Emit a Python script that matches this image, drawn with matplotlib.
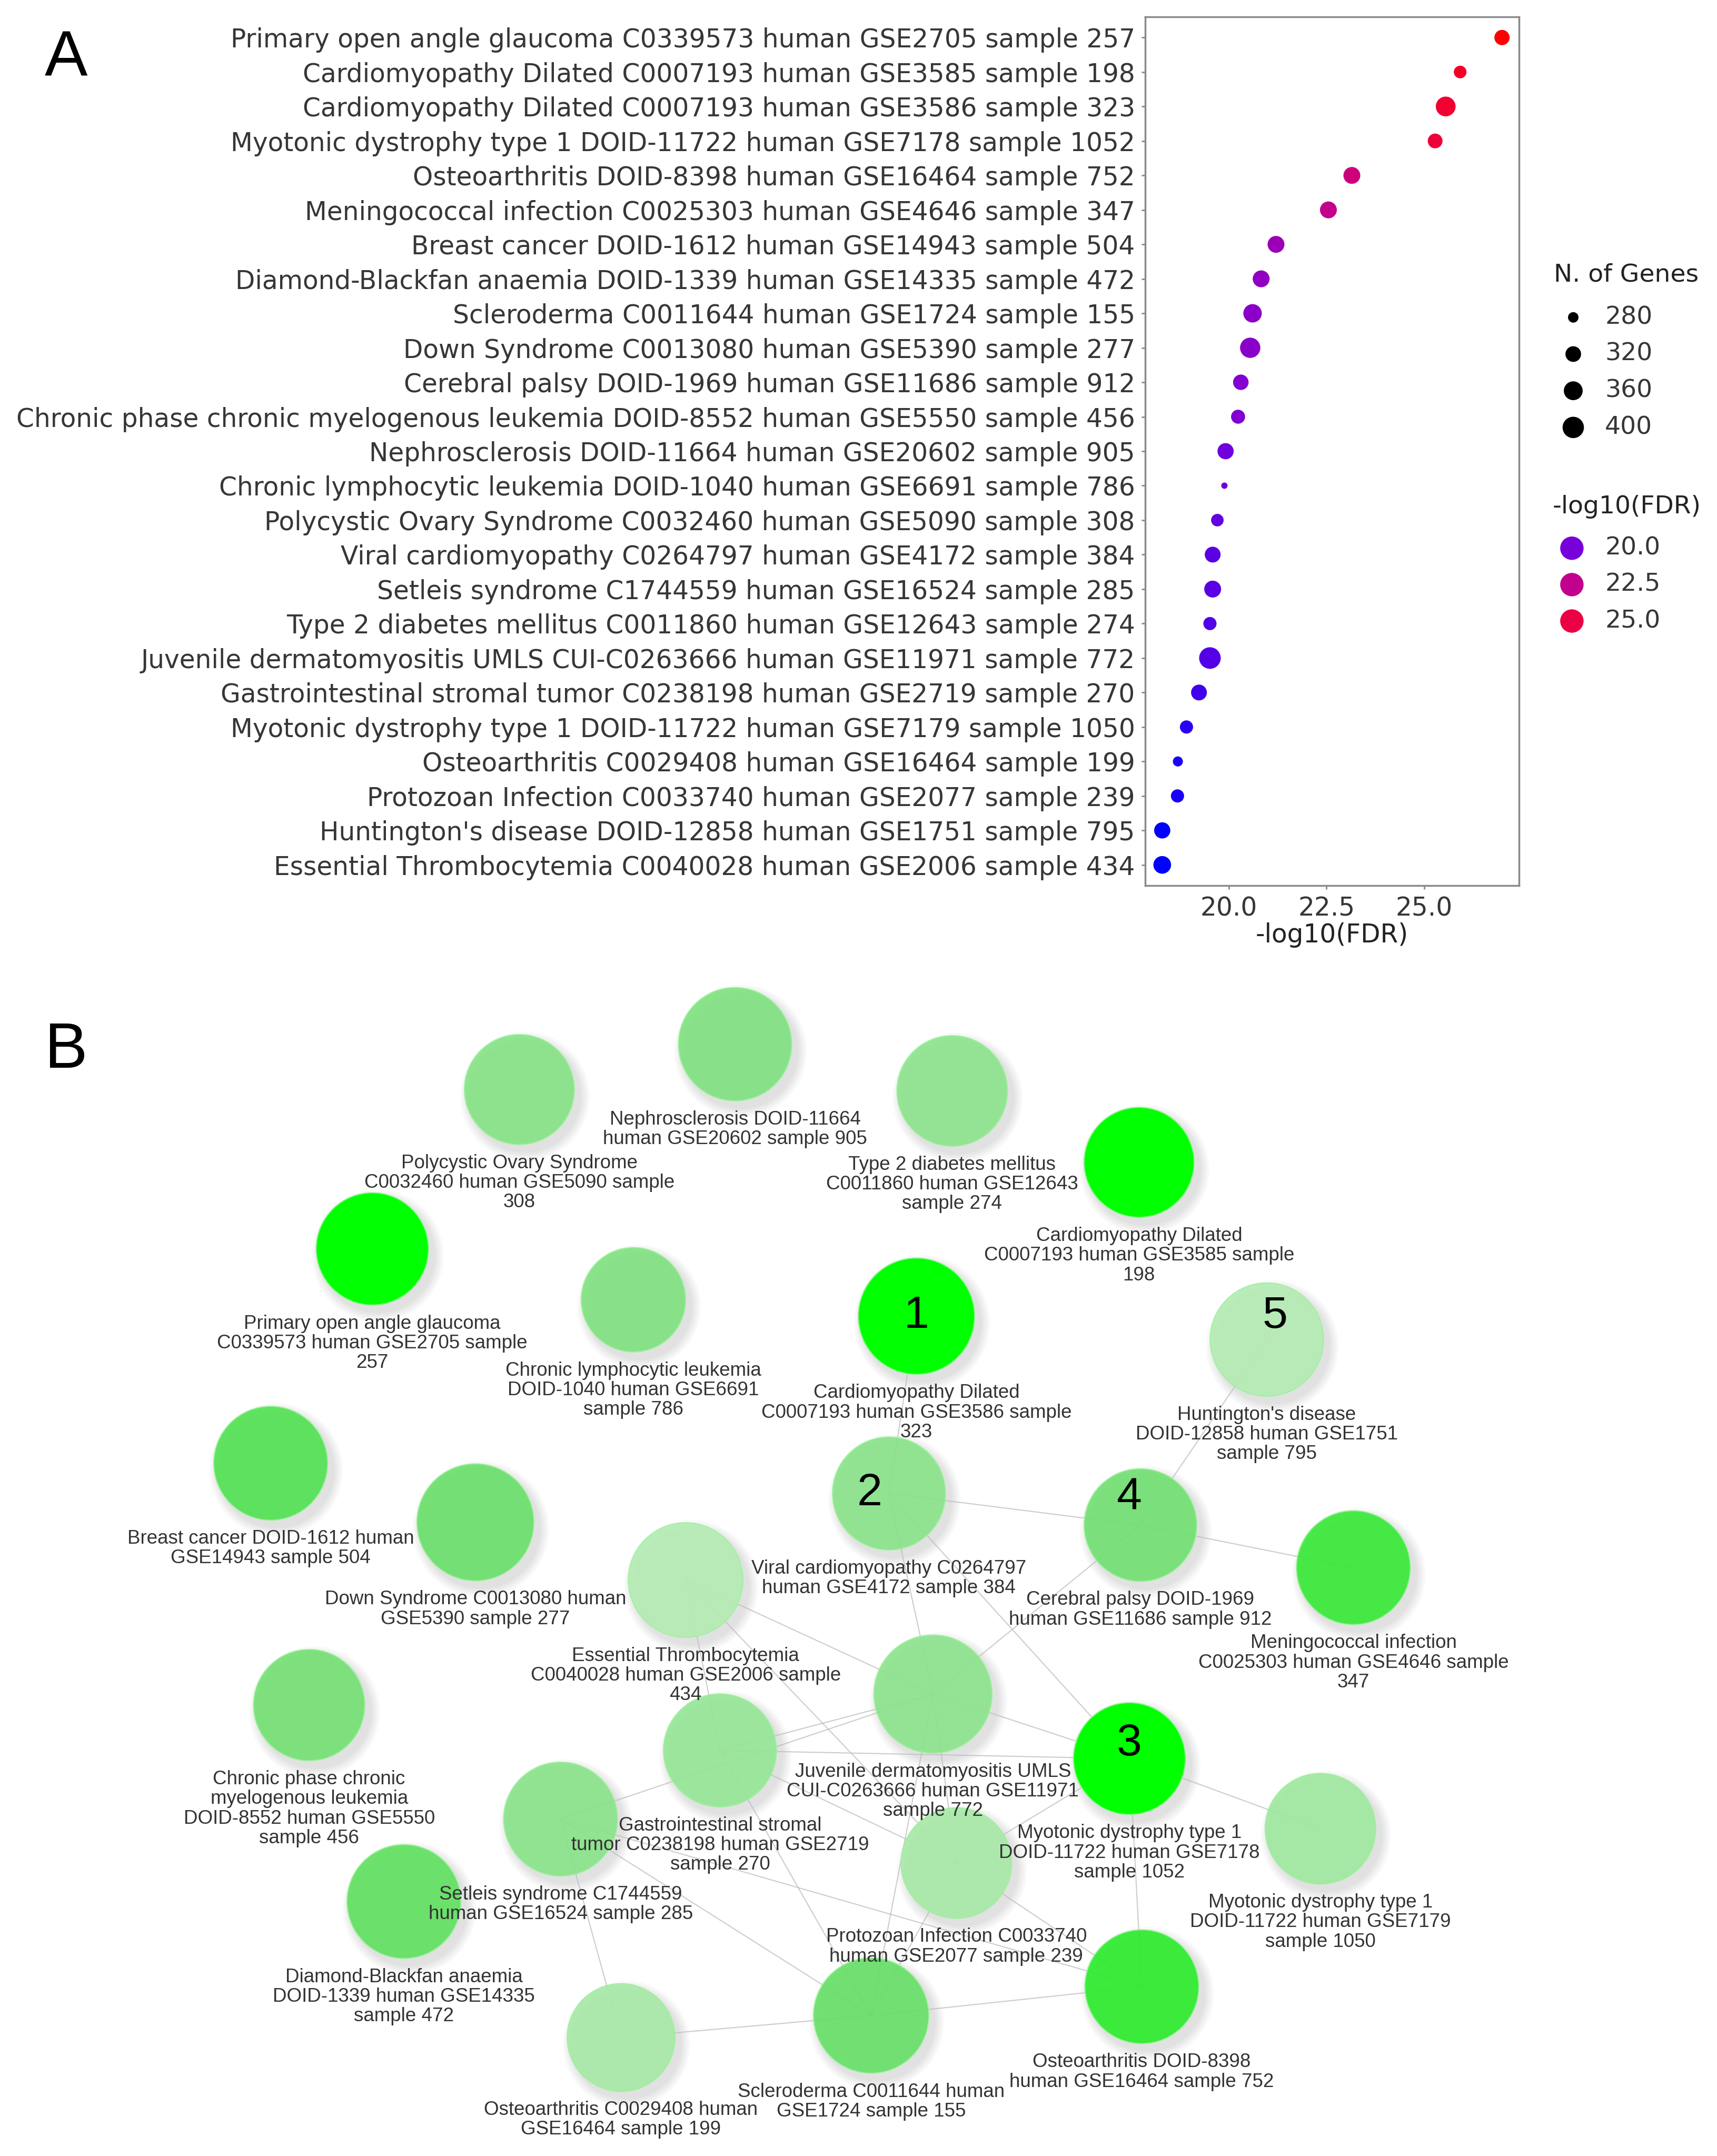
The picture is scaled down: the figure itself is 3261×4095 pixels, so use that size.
import numpy as np
import matplotlib
matplotlib.use('Agg')
import matplotlib.pyplot as plt
from matplotlib.colors import LinearSegmentedColormap, Normalize
from matplotlib.patches import Circle

# ---------------- data ----------------
diseases = [
    'Primary open angle glaucoma C0339573 human GSE2705 sample 257',
    'Cardiomyopathy Dilated C0007193 human GSE3585 sample 198',
    'Cardiomyopathy Dilated C0007193 human GSE3586 sample 323',
    'Myotonic dystrophy type 1 DOID-11722 human GSE7178 sample 1052',
    'Osteoarthritis DOID-8398 human GSE16464 sample 752',
    'Meningococcal infection C0025303 human GSE4646 sample 347',
    'Breast cancer DOID-1612 human GSE14943 sample 504',
    'Diamond-Blackfan anaemia DOID-1339 human GSE14335 sample 472',
    'Scleroderma C0011644 human GSE1724 sample 155',
    'Down Syndrome C0013080 human GSE5390 sample 277',
    'Cerebral palsy DOID-1969 human GSE11686 sample 912',
    'Chronic phase chronic myelogenous leukemia DOID-8552 human GSE5550 sample 456',
    'Nephrosclerosis DOID-11664 human GSE20602 sample 905',
    'Chronic lymphocytic leukemia DOID-1040 human GSE6691 sample 786',
    'Polycystic Ovary Syndrome C0032460 human GSE5090 sample 308',
    'Viral cardiomyopathy C0264797 human GSE4172 sample 384',
    'Setleis syndrome C1744559 human GSE16524 sample 285',
    'Type 2 diabetes mellitus C0011860 human GSE12643 sample 274',
    'Juvenile dermatomyositis UMLS CUI-C0263666 human GSE11971 sample 772',
    'Gastrointestinal stromal tumor C0238198 human GSE2719 sample 270',
    'Myotonic dystrophy type 1 DOID-11722 human GSE7179 sample 1050',
    'Osteoarthritis C0029408 human GSE16464 sample 199',
    'Protozoan Infection C0033740 human GSE2077 sample 239',
    "Huntington's disease DOID-12858 human GSE1751 sample 795",
    'Essential Thrombocytemia C0040028 human GSE2006 sample 434',
]
fdr = [26.99, 25.92, 25.55, 25.28, 23.15, 22.55, 21.21, 20.83, 20.61, 20.55,
       20.31, 20.24, 19.92, 19.89, 19.71, 19.59, 19.59, 19.52, 19.52, 19.24,
       18.92, 18.70, 18.69, 18.30, 18.30]
genes = [316, 293, 374, 311, 334, 334, 334, 334, 354, 382,
         318, 304, 326, 270, 292, 322, 334, 297, 404, 322,
         297, 278, 297, 326, 344]
size_breaks = [280, 320, 360, 400]
color_breaks = [20.0, 22.5, 25.0]

# network (panel B), same order as the list above
node_x = [271, 829, 667, 822, 831, 985, 197, 294, 634, 346,
          830, 225, 535, 461, 378, 647, 408, 693, 679, 524,
          961, 452, 696, 922, 499]
node_y = [909, 846, 958, 1280, 1446, 1141, 1065, 1384, 1467, 1108,
          1110, 1241, 760, 946, 793, 1087, 1324, 794, 1233, 1274,
          1331, 1483, 1356, 975, 1150]
node_labels = [
    'Primary open angle glaucoma\nC0339573 human GSE2705 sample\n257',
    'Cardiomyopathy Dilated\nC0007193 human GSE3585 sample\n198',
    'Cardiomyopathy Dilated\nC0007193 human GSE3586 sample\n323',
    'Myotonic dystrophy type 1\nDOID-11722 human GSE7178\nsample 1052',
    'Osteoarthritis DOID-8398\nhuman GSE16464 sample 752',
    'Meningococcal infection\nC0025303 human GSE4646 sample\n347',
    'Breast cancer DOID-1612 human\nGSE14943 sample 504',
    'Diamond-Blackfan anaemia\nDOID-1339 human GSE14335\nsample 472',
    'Scleroderma C0011644 human\nGSE1724 sample 155',
    'Down Syndrome C0013080 human\nGSE5390 sample 277',
    'Cerebral palsy DOID-1969\nhuman GSE11686 sample 912',
    'Chronic phase chronic\nmyelogenous leukemia\nDOID-8552 human GSE5550\nsample 456',
    'Nephrosclerosis DOID-11664\nhuman GSE20602 sample 905',
    'Chronic lymphocytic leukemia\nDOID-1040 human GSE6691\nsample 786',
    'Polycystic Ovary Syndrome\nC0032460 human GSE5090 sample\n308',
    'Viral cardiomyopathy C0264797\nhuman GSE4172 sample 384',
    'Setleis syndrome C1744559\nhuman GSE16524 sample 285',
    'Type 2 diabetes mellitus\nC0011860 human GSE12643\nsample 274',
    'Juvenile dermatomyositis UMLS\nCUI-C0263666 human GSE11971\nsample 772',
    'Gastrointestinal stromal\ntumor C0238198 human GSE2719\nsample 270',
    'Myotonic dystrophy type 1\nDOID-11722 human GSE7179\nsample 1050',
    'Osteoarthritis C0029408 human\nGSE16464 sample 199',
    'Protozoan Infection C0033740\nhuman GSE2077 sample 239',
    "Huntington's disease\nDOID-12858 human GSE1751\nsample 795",
    'Essential Thrombocytemia\nC0040028 human GSE2006 sample\n434',
]
# rank labels: node index -> (text, dx, dy)
rank_labels = {2: ('1', 0, 0), 15: ('2', -14, 0), 3: ('3', 0, -11),
               10: ('4', -8, -20), 23: ('5', 6, -17)}
edges = [(2, 15), (15, 10), (10, 5), (23, 10), (10, 18), (15, 18), (15, 3),
         (24, 18), (24, 19), (24, 22), (19, 18), (19, 3), (19, 22), (19, 8),
         (16, 18), (16, 21), (16, 8), (16, 4), (21, 8), (8, 4), (8, 18),
         (8, 22), (22, 18), (22, 3), (22, 4), (3, 20), (3, 4), (18, 3)]

# ---------------- figure ----------------
W = 1250.0
H = 4095 / (3262 / W)
fig = plt.figure(figsize=(32.62, 40.95), dpi=100)

g_min, g_max = min(genes), max(genes)


def dot_pt(g):
    # diameter in points, area-type scale like ggplot scale_size
    g = np.asarray(g, dtype=float)
    px = 12 + 29 * np.sqrt(np.clip((g - g_min) / (g_max - g_min), 0, 1))
    return px * 0.72


f_min, f_max = min(fdr), max(fdr)
cmap_a = LinearSegmentedColormap.from_list(
    'br', [(0, '#0000FF'), (0.2, '#7A00DA'), (0.48, '#C2008F'),
           (0.77, '#EB0045'), (1, '#FF0000')])
norm = Normalize(f_min, f_max)

# ----- panel A -----
ax = fig.add_axes([0.6668, 0.58926, 0.2176, 0.40293])
ypos = np.arange(len(diseases))
ax.scatter(fdr, ypos, s=dot_pt(genes) ** 2, c=fdr, cmap=cmap_a, norm=norm,
           edgecolors='none', zorder=3)
ax.set_yticks(ypos)
ax.set_yticklabels(diseases, fontsize=35, color='#363636')
ax.set_ylim(len(diseases) - 1 + 0.6, -0.6)
rng = f_max - f_min
ax.set_xlim(f_min - 0.05 * rng, f_max + 0.05 * rng)
ax.set_xticks([20, 22.5, 25])
ax.set_xticklabels(['20.0', '22.5', '25.0'], fontsize=35, color='#363636')
ax.set_xlabel('-log10(FDR)', fontsize=35, color='#222222', labelpad=2)
for sp in ax.spines.values():
    sp.set_color('#8a8a8a')
    sp.set_linewidth(2.5)
ax.tick_params(length=5, width=2, color='#8a8a8a', pad=9)

# ----- overlay in layout coordinates (legend + panel B) -----
ov = fig.add_axes([0, 0, 1, 1], facecolor='none')
ov.set_xlim(0, W)
ov.set_ylim(H, 0)
ov.axis('off')

fig.text(48 / W, 1 - 43 / H, 'A', fontsize=88, family='Liberation Sans',
         ha='center', va='center')
fig.text(48 / W, 1 - 765 / H, 'B', fontsize=88, family='Liberation Sans',
         ha='center', va='center')

# legend: size
ov.text(1131, 200, 'N. of Genes', fontsize=34, color='#222222', va='center')
for i, g in enumerate(size_breaks):
    yy = 231 + i * 26.7
    ov.scatter([1145], [yy], s=dot_pt(g) ** 2, color='black', edgecolors='none')
    ov.text(1168, yy, str(g), fontsize=34, color='#363636', va='center')
# legend: colour
ov.text(1130, 369, '-log10(FDR)', fontsize=34, color='#222222', va='center')
for i, v in enumerate(color_breaks):
    yy = 399 + i * 26.5
    ov.scatter([1144], [yy], s=32 ** 2, color=cmap_a(norm(v)), edgecolors='none')
    ov.text(1168, yy, '%.1f' % v, fontsize=34, color='#363636', va='center')

# ----- panel B: network -----
cmap_b = LinearSegmentedColormap.from_list(
    'gr', [(0, '#B4ECB4'), (0.15, '#88E388'), (0.265, '#66DF66'),
           (0.334, '#50E250'), (0.541, '#2CEB2C'), (0.794, '#00FF00'),
           (1, '#00FF00')])
node_r = [38 + 5 * np.sqrt((g - g_min) / (g_max - g_min)) for g in genes]

for a, b in edges:
    ov.plot([node_x[a], node_x[b]], [node_y[a], node_y[b]], color='#bcbcbc',
            lw=1.5, alpha=0.75, zorder=2, solid_capstyle='round')

for i in range(len(node_x)):
    x, y, r = node_x[i], node_y[i], node_r[i]
    for k in range(5):
        ov.add_patch(Circle((x + 4, y + 5), r + 1 + k * 1.5, color='black',
                            alpha=0.025, lw=0, zorder=1))
    col = cmap_b(norm(fdr[i]))
    alpha = 1.0 if fdr[i] >= 25 else 0.9
    ov.add_patch(Circle((x, y), r, facecolor=col, edgecolor='#9cf29c',
                        lw=1.5, alpha=alpha, zorder=3))
    y0 = y + r + 13.5
    for j, line in enumerate(node_labels[i].split('\n')):
        ov.text(x, y0 + j * 14.3, line, fontsize=26.5, family='Liberation Sans',
                color='#333333', ha='center', va='center', zorder=5)

for i, (lab, dx, dy) in rank_labels.items():
    ov.text(node_x[i] + dx, node_y[i] + dy, lab, fontsize=62,
            family='Liberation Sans', color='black', ha='center', va='center',
            zorder=6)

fig.savefig('out.png', dpi=100)
